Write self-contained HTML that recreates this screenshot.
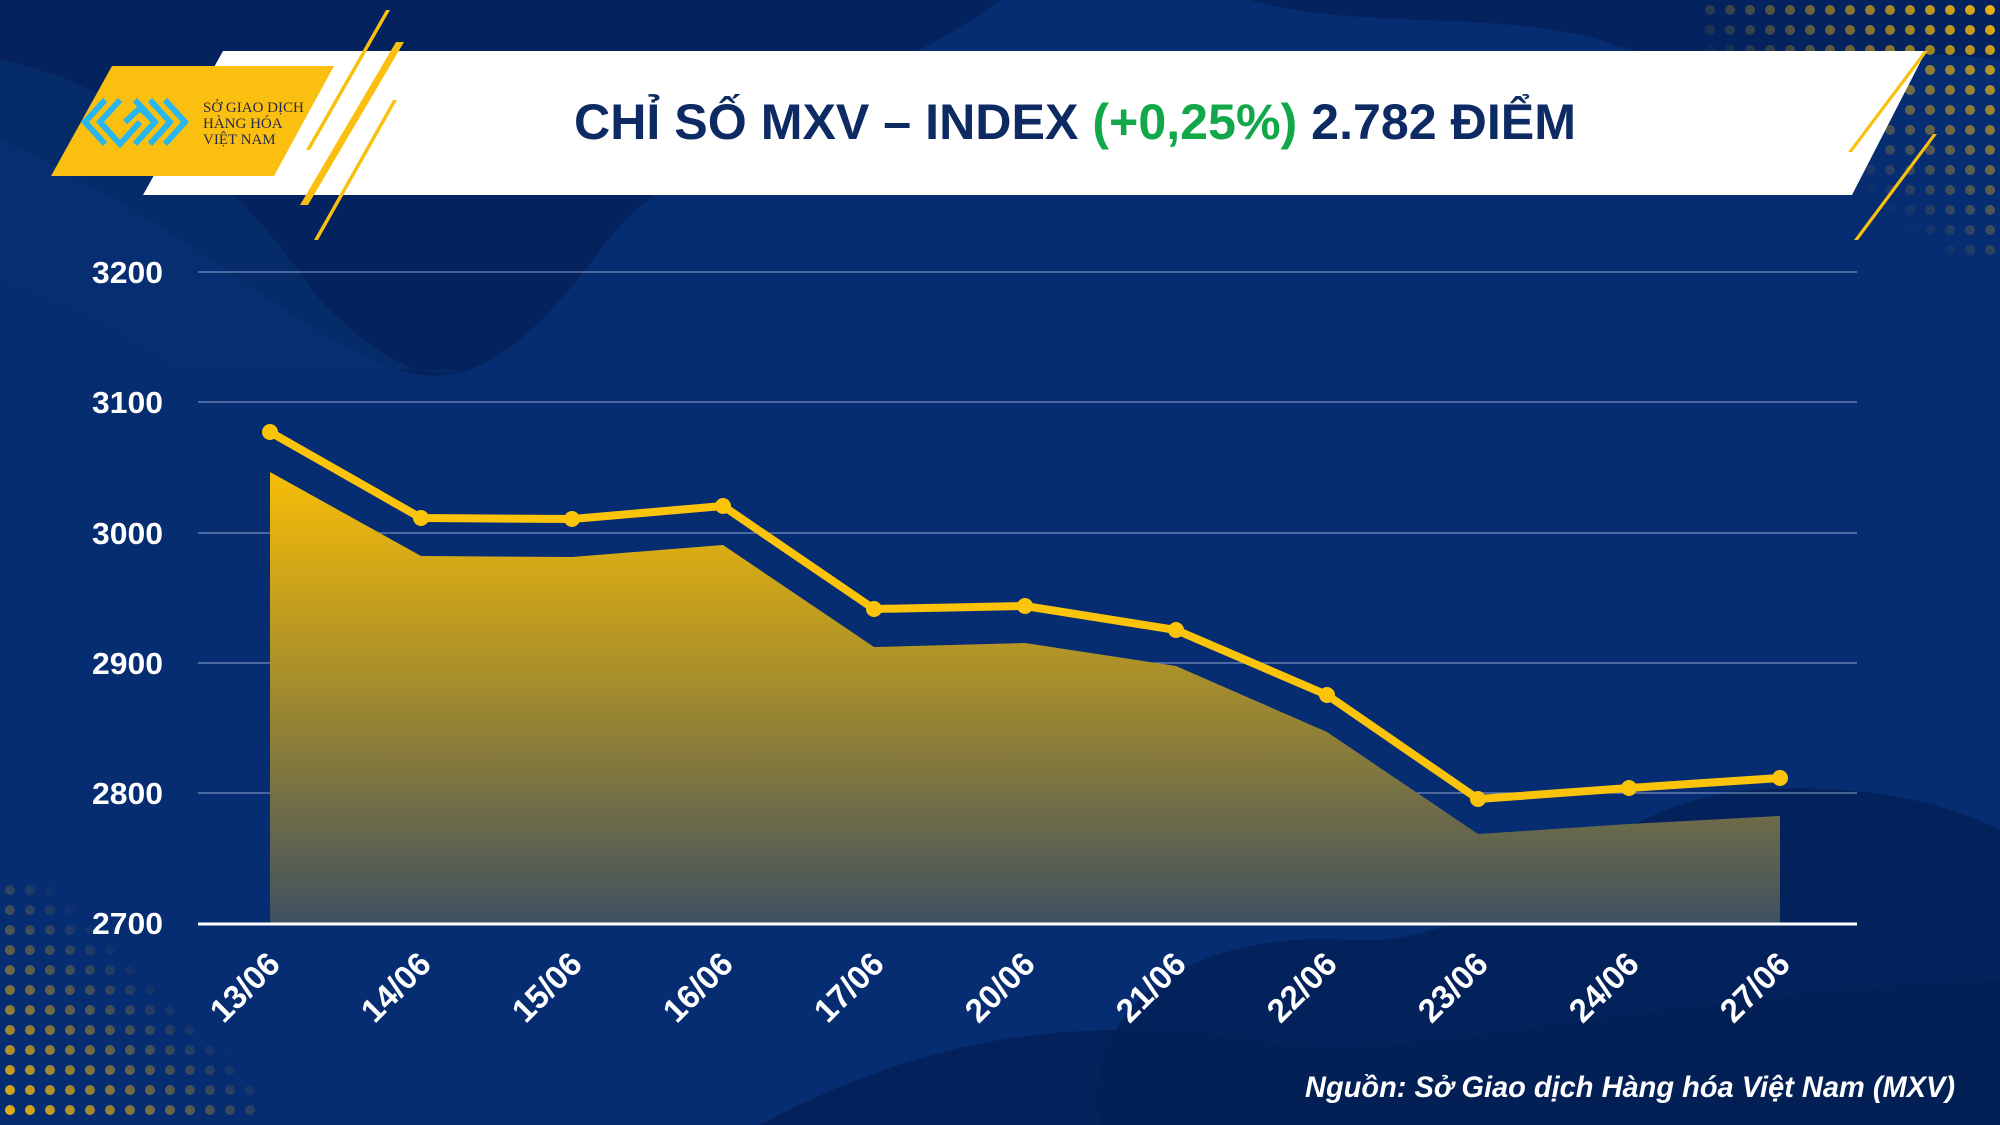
<!DOCTYPE html>
<html><head><meta charset="utf-8"><style>html,body{margin:0;padding:0;background:#062b70}svg{display:block}</style></head>
<body>
<svg width="2000" height="1125" viewBox="0 0 2000 1125" xmlns="http://www.w3.org/2000/svg">
<defs>
<linearGradient id="ag" x1="0" y1="0" x2="0" y2="1" gradientUnits="objectBoundingBox">
<stop offset="0" stop-color="#f7bd07"/><stop offset="0.45" stop-color="#a98f2a"/><stop offset="1" stop-color="#3f5060"/></linearGradient>
<pattern id="dp" width="20" height="20" patternUnits="userSpaceOnUse"><circle cx="10" cy="10" r="5" fill="#f5b90c"/></pattern>
<linearGradient id="fadeR" x1="1" y1="0" x2="0" y2="1"><stop offset="0" stop-color="#fff" stop-opacity="1"/><stop offset="0.6" stop-color="#fff" stop-opacity="0"/></linearGradient>
<linearGradient id="fadeL" x1="0" y1="1" x2="1" y2="0"><stop offset="0" stop-color="#fff" stop-opacity="1"/><stop offset="0.6" stop-color="#fff" stop-opacity="0"/></linearGradient>
<mask id="mR"><rect x="1700" y="0" width="300" height="260" fill="url(#fadeR)"/></mask>
<mask id="mL"><rect x="0" y="880" width="260" height="245" fill="url(#fadeL)"/></mask>
</defs>
<rect width="2000" height="1125" fill="#062c72"/>
<path d="M0 0 H1000 C900 80 700 120 600 250 C520 360 460 390 400 370 C300 340 200 230 0 140 Z" fill="#04235e"/>
<path d="M0 60 C150 90 250 200 320 300 C380 360 420 380 460 370 L0 370 Z" fill="#07306f" opacity="0.6"/>
<path d="M1250 0 H2000 V60 C1850 40 1700 80 1600 40 C1500 10 1350 30 1250 0 Z" fill="#04235e"/>
<path d="M1100 1125 C1080 1000 1200 930 1350 940 C1500 950 1600 800 1750 790 C1900 780 1980 820 2000 830 V1125 Z" fill="#03225c"/>
<path d="M760 1125 C900 1050 1050 1010 1250 1040 C1400 1070 1600 1000 2000 980 V1125 Z" fill="#022055" opacity="0.8"/>
<path d="M0 280 C150 330 300 450 380 560 L0 560 Z" fill="#07306f" opacity="0.4"/>
<rect x="1700" y="0" width="300" height="260" fill="url(#dp)" mask="url(#mR)"/>
<rect x="0" y="880" width="260" height="245" fill="url(#dp)" mask="url(#mL)"/>
<polygon points="223,51 1926,51 1852,195 143,195" fill="#ffffff"/>
<polygon points="112,66 334,66 274,176 51,176" fill="#fbc00f"/>
<g fill="#fbc00f">
<polygon points="386,10 390,10 310,150 306,150"/>
<polygon points="396,42 404,42 308,205 300,205"/>
<polygon points="393,100 397,100 318,240 314,240"/>
<polygon points="1924,51 1928,51 1852,152 1848,152"/>
<polygon points="1933,134 1937,134 1858,240 1854,240"/>
</g>
<g fill="none" stroke="#29b6ec" stroke-width="6">
<polyline points="105,100 85,122 105,144"/>
<polyline points="120,100 100,122 120,144 140,122"/>
<polyline points="135,100 155,122 135,144"/>
<polyline points="150,100 170,122 150,144"/>
<polyline points="165,100 185,122 165,144"/>
<polyline points="125,122 140,108 155,122"/>
</g>
<g font-family="Liberation Serif, serif" font-size="15" fill="#2a2a4a">
<text x="203" y="112">SỞ GIAO DỊCH</text><text x="203" y="128">HÀNG HÓA</text><text x="203" y="144">VIỆT NAM</text></g>
<text x="574" y="139" textLength="1002" lengthAdjust="spacingAndGlyphs" font-family="Liberation Sans, sans-serif" font-weight="bold" font-size="50" fill="#0d2a63">CHỈ SỐ MXV – INDEX <tspan fill="#12a84a">(+0,25%)</tspan> 2.782 ĐIỂM</text>
<g stroke="#8ea3cc" stroke-width="1.2" opacity="0.8">
<line x1="198" y1="272" x2="1857" y2="272"/><line x1="198" y1="402" x2="1857" y2="402"/><line x1="198" y1="533" x2="1857" y2="533"/><line x1="198" y1="663" x2="1857" y2="663"/><line x1="198" y1="793" x2="1857" y2="793"/></g>
<g font-family="Liberation Sans, sans-serif" font-weight="bold" font-size="31" fill="#fff">
<text x="92" y="283" textLength="71" lengthAdjust="spacingAndGlyphs">3200</text><text x="92" y="413" textLength="71" lengthAdjust="spacingAndGlyphs">3100</text><text x="92" y="544" textLength="71" lengthAdjust="spacingAndGlyphs">3000</text><text x="92" y="674" textLength="71" lengthAdjust="spacingAndGlyphs">2900</text><text x="92" y="804" textLength="71" lengthAdjust="spacingAndGlyphs">2800</text><text x="92" y="934" textLength="71" lengthAdjust="spacingAndGlyphs">2700</text></g>
<polygon points="270,923 270,472 421,556 572,557 723,545 874,647 1025,643 1176,666 1327,732 1478,834 1629,824 1780,816 1780,923" fill="url(#ag)"/>
<line x1="198" y1="924" x2="1857" y2="924" stroke="#fff" stroke-width="3"/>
<polyline points="270,432 421,518 572,519 723,506 874,609 1025,606 1176,630 1327,695 1478,799 1629,788 1780,778" fill="none" stroke="#fcc30b" stroke-width="8" stroke-linejoin="round"/>
<g fill="#fcc30b">
<circle cx="270" cy="432" r="8"/><circle cx="421" cy="518" r="8"/><circle cx="572" cy="519" r="8"/><circle cx="723" cy="506" r="8"/><circle cx="874" cy="609" r="8"/><circle cx="1025" cy="606" r="8"/><circle cx="1176" cy="630" r="8"/><circle cx="1327" cy="695" r="8"/><circle cx="1478" cy="799" r="8"/><circle cx="1629" cy="788" r="8"/><circle cx="1780" cy="778" r="8"/></g>
<g font-family="Liberation Sans, sans-serif" font-weight="bold" font-size="33" fill="#fff" text-anchor="end">
<text transform="translate(282,966) rotate(-45)">13/06</text>
<text transform="translate(433,966) rotate(-45)">14/06</text>
<text transform="translate(584,966) rotate(-45)">15/06</text>
<text transform="translate(735,966) rotate(-45)">16/06</text>
<text transform="translate(886,966) rotate(-45)">17/06</text>
<text transform="translate(1037,966) rotate(-45)">20/06</text>
<text transform="translate(1188,966) rotate(-45)">21/06</text>
<text transform="translate(1339,966) rotate(-45)">22/06</text>
<text transform="translate(1490,966) rotate(-45)">23/06</text>
<text transform="translate(1641,966) rotate(-45)">24/06</text>
<text transform="translate(1792,966) rotate(-45)">27/06</text></g>
<text x="1305" y="1097" textLength="650" lengthAdjust="spacingAndGlyphs" font-family="Liberation Sans, sans-serif" font-weight="bold" font-style="italic" font-size="30" fill="#fff">Nguồn: Sở Giao dịch Hàng hóa Việt Nam (MXV)</text>
</svg>
</body></html>
